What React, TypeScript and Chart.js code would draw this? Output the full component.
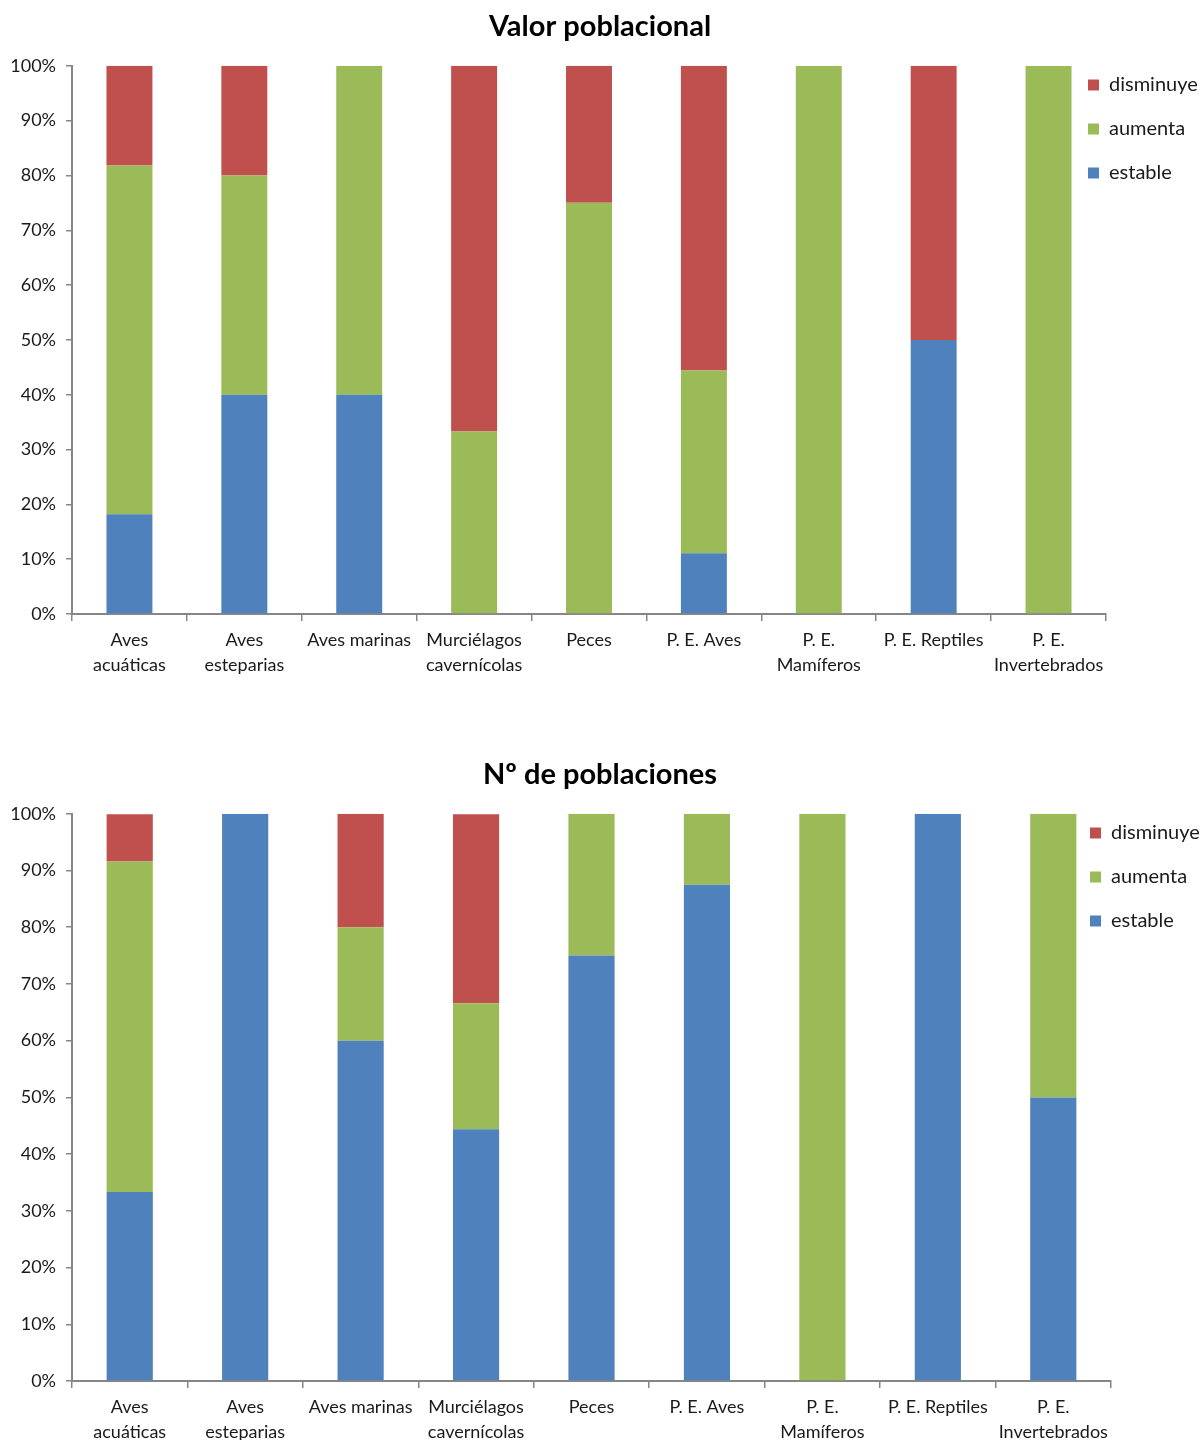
import React, { useEffect, useRef } from "react";
import { Chart, registerables } from "chart.js";

Chart.register(...registerables);

const categories: (string | string[])[] = [
  ["Aves", "acuáticas"],
  ["Aves", "esteparias"],
  "Aves marinas",
  ["Murciélagos", "cavernícolas"],
  "Peces",
  "P. E. Aves",
  ["P. E.", "Mamíferos"],
  "P. E. Reptiles",
  ["P. E.", "Invertebrados"],
];

const seriesNames = ["estable", "aumenta", "disminuye"];
const seriesColors = ["#4F81BD", "#9BBB59", "#C0504D"];

// Valor poblacional (%)
const valorEstable = [18.2, 40, 40, 0, 0, 11.1, 0, 50, 0];
const valorAumenta = [63.6, 40, 60, 33.3, 75, 33.3, 100, 0, 100];
const valorDisminuye = [18.2, 20, 0, 66.7, 25, 55.6, 0, 50, 0];

// Nº de poblaciones (%)
const numEstable = [33.3, 100, 60, 44.4, 75, 87.5, 0, 100, 50];
const numAumenta = [58.3, 0, 20, 22.2, 25, 12.5, 100, 0, 50];
const numDisminuye = [8.3, 0, 20, 33.3, 0, 0, 0, 0, 0];

const yMin = 0;
const yMax = 100;
const yStep = 10;

const FONT = "Lato, 'Noto Sans', sans-serif";
const AXIS = "#868686";
const TEXT = "#1a1a1a";

const legendPlacer = {
  id: "legendPlacer",
  afterLayout(chart: any, _args: any, opts: any) {
    const lg = chart.legend;
    if (!lg || opts.left === undefined) return;
    lg.left = opts.left;
    lg.right = chart.width;
    lg.width = chart.width - opts.left;
    lg.top = opts.top;
    lg.bottom = opts.top + 400;
    lg.height = 400;
  },
};

type Props = {
  title: string;
  values: number[][];
  width: number;
  height: number;
  plotRight: number;
  xAxisHeight: number;
  legendLeft: number;
  legendTop: number;
};

function StackChart(p: Props) {
  const ref = useRef<HTMLCanvasElement | null>(null);
  useEffect(() => {
    if (!ref.current) return;
    const chart = new Chart(ref.current, {
      type: "bar",
      data: {
        labels: categories as any,
        datasets: seriesNames.map((name, i) => ({
          label: name,
          data: p.values[i],
          backgroundColor: seriesColors[i],
          borderWidth: 0,
          barPercentage: 0.4,
          categoryPercentage: 1,
        })),
      },
      options: {
        responsive: false,
        animation: false,
        devicePixelRatio: 1,
        layout: { padding: 0 },
        plugins: {
          title: {
            display: true,
            text: p.title,
            color: "#000",
            font: { family: FONT, size: 29, weight: "bold" },
            padding: { top: 9, bottom: 22 },
          },
          legend: {
            display: true,
            position: "right",
            align: "start",
            reverse: true,
            maxWidth: p.width - p.plotRight,
            labels: {
              boxWidth: 11,
              boxHeight: 11,
              padding: 24,
              color: TEXT,
              font: { family: FONT, size: 20 },
            },
          },
          tooltip: { enabled: false },
          legendPlacer: { left: p.legendLeft, top: p.legendTop },
        } as any,
        scales: {
          x: {
            stacked: true,
            offset: true,
            grid: {
              offset: true,
              drawOnChartArea: false,
              tickLength: 7,
              color: AXIS,
              lineWidth: 1.5,
            },
            border: { color: AXIS, width: 2 },
            ticks: {
              autoSkip: false,
              maxRotation: 0,
              minRotation: 0,
              padding: 7,
              color: TEXT,
              font: { family: FONT, size: 18, lineHeight: 1.39 },
            },
            afterFit: (s: any) => {
              s.height = p.xAxisHeight;
            },
          },
          y: {
            stacked: true,
            min: yMin,
            max: yMax,
            grid: {
              drawOnChartArea: false,
              tickLength: 6,
              color: AXIS,
              lineWidth: 1.5,
            },
            border: { color: AXIS, width: 2 },
            ticks: {
              stepSize: yStep,
              padding: 10,
              color: TEXT,
              font: { family: FONT, size: 18 },
              callback: (v: any) => `${v}%`,
            },
            afterFit: (s: any) => {
              s.width = 72;
            },
          },
        },
      },
      plugins: [legendPlacer as any],
    });
    return () => chart.destroy();
  }, []);
  return (
    <canvas
      ref={ref}
      width={p.width}
      height={p.height}
      style={{ display: "block", width: p.width, height: p.height }}
    />
  );
}

export default function App() {
  return (
    <div
      style={{
        position: "absolute",
        left: 0,
        top: 0,
        width: 1200,
        height: 1440,
        overflow: "hidden",
        background: "#fff",
      }}
    >
      <div style={{ position: "absolute", left: 0, top: 0 }}>
        <StackChart
          title="Valor poblacional"
          values={[valorEstable, valorAumenta, valorDisminuye]}
          width={1200}
          height={684}
          plotRight={1106}
          xAxisHeight={70}
          legendLeft={1064}
          legendTop={51}
        />
      </div>
      <div style={{ position: "absolute", left: 0, top: 748 }}>
        <StackChart
          title="Nº de poblaciones"
          values={[numEstable, numAumenta, numDisminuye]}
          width={1200}
          height={692}
          plotRight={1111}
          xAxisHeight={59}
          legendLeft={1066}
          legendTop={51}
        />
      </div>
    </div>
  );
}
